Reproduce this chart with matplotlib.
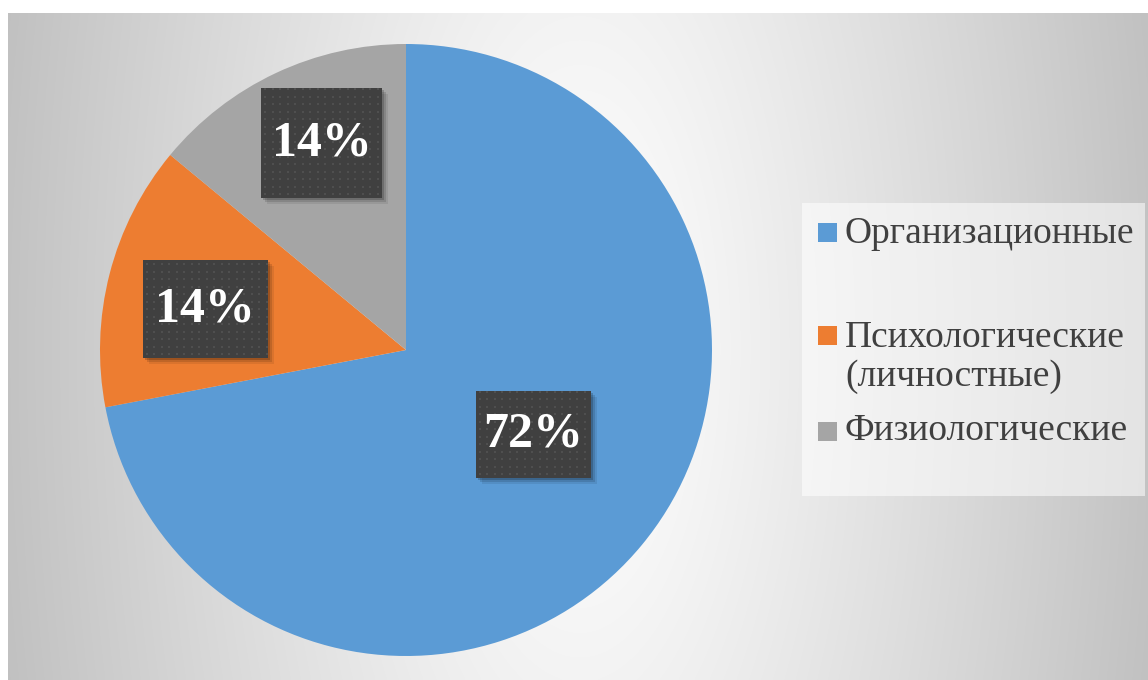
import numpy as np
import matplotlib
matplotlib.use("Agg")
import matplotlib.pyplot as plt
from matplotlib.patches import Rectangle

plt.rcParams["font.family"] = ["Liberation Serif", "DejaVu Serif"]

# causes of procrastination, share of answers
categories = ["Организационные", "Психологические\n(личностные)", "Физиологические"]
shares = [72, 14, 14]
colors = ["#5B9BD5", "#ED7D31", "#A5A5A5"]

# label placement per wedge: distance from centre, angle nudge (deg), box size (px)
label_dist = [0.50, 0.67, 0.73]
label_nudge = [6.0, 3.0, -3.0]
box_px = [(115, 87), (125, 98), (121, 110)]

W, H = 1148, 680
fig = plt.figure(figsize=(W / 100, H / 100), dpi=100)
fig.patch.set_facecolor("white")

# chart area background: soft gradient, light in the middle, grey to the sides
bg = fig.add_axes([8 / W, 0, (W - 8) / W, (H - 13) / H])
bg.set_axis_off()
gx = np.linspace(8, W, 570)
gy = np.linspace(13, H, 334)
X, Y = np.meshgrid(gx, gy)
nx = (X - 580) / 570
ny = (Y - 349) / 331
d = np.sqrt(nx ** 2 + 0.06 * ny ** 2)
val = 1 - 0.235 * d ** 1.15
bg.imshow(np.dstack([val, val, val]), aspect="auto", interpolation="bicubic",
          extent=[0, 1, 0, 1])
bg.set_xlim(0, 1)
bg.set_ylim(0, 1)

# pie
cx, cy, r = 406, 350, 306
ax = fig.add_axes([(cx - r) / W, (H - cy - r) / H, 2 * r / W, 2 * r / H])
ax.set_axis_off()
wedges, _ = ax.pie(shares, colors=colors, startangle=90, counterclock=False,
                   radius=1, wedgeprops=dict(linewidth=0))
ax.set_xlim(-1, 1)
ax.set_ylim(-1, 1)

for w, val_, dist, nudge, (bw, bh) in zip(wedges, shares, label_dist, label_nudge, box_px):
    mid = np.deg2rad((w.theta1 + w.theta2) / 2 + nudge)
    lx, ly = dist * np.cos(mid), dist * np.sin(mid)
    bw_, bh_ = bw / r, bh / r
    # soft shadow
    for k, a in [(6, 0.08), (4, 0.12), (2, 0.18)]:
        ax.add_patch(Rectangle((lx - bw_ / 2 + k / r, ly - bh_ / 2 - k / r), bw_, bh_,
                               facecolor="black", alpha=a, linewidth=0, zorder=3))
    ax.add_patch(Rectangle((lx - bw_ / 2, ly - bh_ / 2), bw_, bh_,
                           facecolor="#404040", linewidth=0, zorder=4))
    # dotted texture of the label box
    px = np.arange(lx - bw_ / 2 + 4 / r, lx + bw_ / 2, 7.5 / r)
    py = np.arange(ly - bh_ / 2 + 4 / r, ly + bh_ / 2, 7.5 / r)
    PX, PY = np.meshgrid(px, py)
    ax.scatter(PX.ravel(), PY.ravel(), s=1.5, color="#4f4f4f", marker="s",
               linewidths=0, zorder=5)
    ax.text(lx, ly, f"{val_}%", ha="center", va="center", color="white",
            fontsize=36, fontweight="bold", zorder=6)

# legend panel
fig.patches.append(Rectangle((802 / W, 1 - 496 / H), 343 / W, 293 / H,
                             transform=fig.transFigure, facecolor="white",
                             alpha=0.55, linewidth=0, zorder=1))
legend_y = [234, 357, 431]
marker_y = [232, 335, 431]
for lab, c, ty, my in zip(categories, colors, legend_y, marker_y):
    fig.patches.append(Rectangle((818 / W, 1 - (my + 10) / H), 19 / W, 19 / H,
                                 transform=fig.transFigure, facecolor=c,
                                 linewidth=0, zorder=2))
    fig.text(845 / W, 1 - ty / H, lab, ha="left", va="center", fontsize=27,
             color="#404040", linespacing=1.15, zorder=3)

fig.savefig("out.png", dpi=100)
